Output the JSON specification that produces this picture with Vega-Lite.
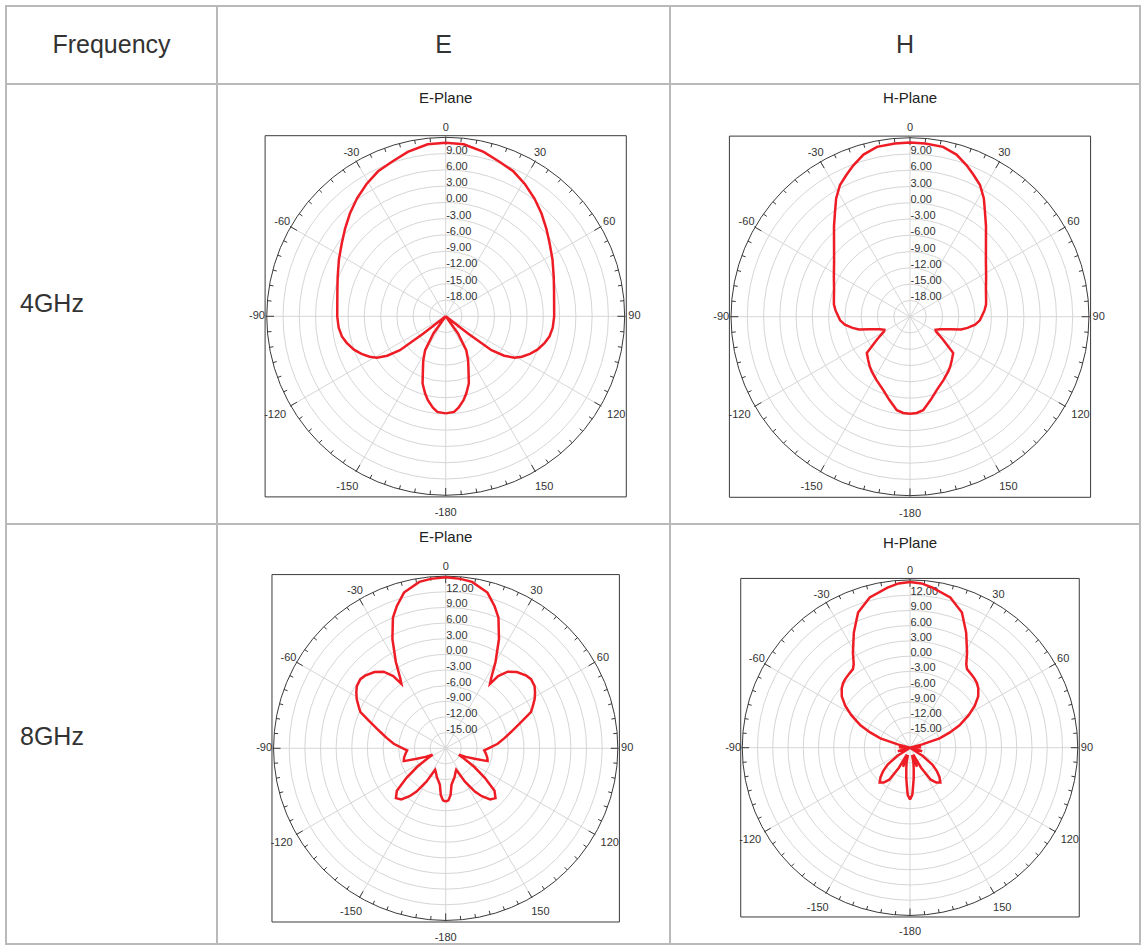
{
"$schema":"https://vega.github.io/schema/vega-lite/v6.json",
"padding":{"left":5,"top":5,"right":0,"bottom":0},
"config":{"view":{"stroke":"#b9b9b9","strokeWidth":2},"text":{"font":"Liberation Sans"}},
"datasets":{
"r1":[{"d":-18},{"d":-15},{"d":-12},{"d":-9},{"d":-6},{"d":-3},{"d":0},{"d":3},{"d":6},{"d":9},{"d":12}],
"r2":[{"d":-15},{"d":-12},{"d":-9},{"d":-6},{"d":-3},{"d":0},{"d":3},{"d":6},{"d":9},{"d":12},{"d":15}],
"frame":[{"s":11.1}],
"spk":[{"a":0},{"a":30},{"a":60},{"a":90},{"a":120},{"a":150},{"a":-180},{"a":-150},{"a":-120},{"a":-90},{"a":-60},{"a":-30}],
"tk":[{"a":0},{"a":5},{"a":10},{"a":15},{"a":20},{"a":25},{"a":30},{"a":35},{"a":40},{"a":45},{"a":50},{"a":55},{"a":60},{"a":65},{"a":70},{"a":75},{"a":80},{"a":85},{"a":90},{"a":95},{"a":100},{"a":105},{"a":110},{"a":115},{"a":120},{"a":125},{"a":130},{"a":135},{"a":140},{"a":145},{"a":150},{"a":155},{"a":160},{"a":165},{"a":170},{"a":175},{"a":180},{"a":185},{"a":190},{"a":195},{"a":200},{"a":205},{"a":210},{"a":215},{"a":220},{"a":225},{"a":230},{"a":235},{"a":240},{"a":245},{"a":250},{"a":255},{"a":260},{"a":265},{"a":270},{"a":275},{"a":280},{"a":285},{"a":290},{"a":295},{"a":300},{"a":305},{"a":310},{"a":315},{"a":320},{"a":325},{"a":330},{"a":335},{"a":340},{"a":345},{"a":350},{"a":355}],
"e4":[{"a":-180,"d":-3.1},{"a":-175,"d":-3.3},{"a":-172,"d":-4.0},{"a":-168,"d":-5.2},{"a":-165,"d":-6.3},{"a":-161,"d":-7.9},{"a":-156,"d":-10.7},{"a":-153,"d":-11.9},{"a":-148.7,"d":-13.7},{"a":-144.5,"d":-17.1},{"a":-141,"d":-21},{"a":-129,"d":-21},{"a":-127.7,"d":-15.8},{"a":-126.5,"d":-10.5},{"a":-124,"d":-8.0},{"a":-121,"d":-6.2},{"a":-118,"d":-5.1},{"a":-114,"d":-4.0},{"a":-110,"d":-3.0},{"a":-105,"d":-2.1},{"a":-101,"d":-1.5},{"a":-96,"d":-1.15},{"a":-90,"d":-1.0},{"a":-84,"d":-0.9},{"a":-77,"d":-0.5},{"a":-70,"d":0.2},{"a":-62,"d":1.3},{"a":-55,"d":2.4},{"a":-49,"d":3.6},{"a":-43,"d":4.9},{"a":-37,"d":6.2},{"a":-31,"d":7.4},{"a":-25,"d":8.5},{"a":-19,"d":9.2},{"a":-13,"d":10.1},{"a":-6,"d":10.9},{"a":0,"d":11.0},
{"a":6,"d":10.9},{"a":13,"d":10.1},{"a":19,"d":9.2},{"a":25,"d":8.5},{"a":31,"d":7.4},{"a":37,"d":6.2},{"a":43,"d":4.9},{"a":49,"d":3.6},{"a":55,"d":2.4},{"a":62,"d":1.3},{"a":70,"d":0.2},{"a":77,"d":-0.5},{"a":84,"d":-0.9},{"a":90,"d":-1.0},{"a":96,"d":-1.15},{"a":101,"d":-1.5},{"a":105,"d":-2.1},{"a":110,"d":-3.0},{"a":114,"d":-4.0},{"a":118,"d":-5.1},{"a":121,"d":-6.2},{"a":124,"d":-8.0},{"a":126.5,"d":-10.5},{"a":127.7,"d":-15.8},{"a":129,"d":-21},{"a":141,"d":-21},{"a":144.5,"d":-17.1},{"a":148.7,"d":-13.7},{"a":153,"d":-11.9},{"a":156,"d":-10.7},{"a":161,"d":-7.9},{"a":165,"d":-6.3},{"a":168,"d":-5.2},{"a":172,"d":-4.0},{"a":175,"d":-3.3},{"a":180,"d":-3.1}],
"h4":[{"a":-180,"d":-3.1},{"a":-176,"d":-3.2},{"a":-172,"d":-3.6},{"a":-166,"d":-5.2},{"a":-160,"d":-6.6},{"a":-152,"d":-7.8},{"a":-145,"d":-8.7},{"a":-141,"d":-9.2},{"a":-136,"d":-9.9},{"a":-130,"d":-10.6},{"a":-125,"d":-13.5},{"a":-122,"d":-14.7},{"a":-119.5,"d":-15.5},{"a":-117,"d":-15.7},{"a":-112.8,"d":-15.0},{"a":-107.5,"d":-13.3},{"a":-104,"d":-11.3},{"a":-101,"d":-10.2},{"a":-97,"d":-8.9},{"a":-93,"d":-8.1},{"a":-89,"d":-7.7},{"a":-85,"d":-7.2},{"a":-81,"d":-6.8},{"a":-77,"d":-6.6},{"a":-70,"d":-6.1},{"a":-62,"d":-5.1},{"a":-54,"d":-3.7},{"a":-47,"d":-1.85},{"a":-40,"d":0.8},{"a":-35.5,"d":2.8},{"a":-32,"d":4.7},{"a":-28,"d":6.5},{"a":-24,"d":7.7},{"a":-20.5,"d":8.8},{"a":-16,"d":10.1},{"a":-11,"d":10.9},{"a":-5,"d":11.05},{"a":0,"d":11.1},
{"a":5,"d":11.05},{"a":11,"d":10.9},{"a":16,"d":10.1},{"a":20.5,"d":8.8},{"a":24,"d":7.7},{"a":28,"d":6.5},{"a":32,"d":4.7},{"a":35.5,"d":2.8},{"a":40,"d":0.8},{"a":47,"d":-1.85},{"a":54,"d":-3.7},{"a":62,"d":-5.1},{"a":70,"d":-6.1},{"a":77,"d":-6.6},{"a":81,"d":-6.8},{"a":85,"d":-7.2},{"a":89,"d":-7.7},{"a":93,"d":-8.1},{"a":97,"d":-8.9},{"a":101,"d":-10.2},{"a":104,"d":-11.3},{"a":107.5,"d":-13.3},{"a":112.8,"d":-15.0},{"a":117,"d":-15.7},{"a":119.5,"d":-15.5},{"a":122,"d":-14.7},{"a":125,"d":-13.5},{"a":130,"d":-10.6},{"a":136,"d":-9.9},{"a":141,"d":-9.2},{"a":145,"d":-8.7},{"a":152,"d":-7.8},{"a":160,"d":-6.6},{"a":166,"d":-5.2},{"a":172,"d":-3.6},{"a":176,"d":-3.2},{"a":180,"d":-3.1}],
"e8":[{"a":-180,"d":-7.8},{"a":-177,"d":-8.0},{"a":-174,"d":-9.0},{"a":-171,"d":-10.9},{"a":-168,"d":-11.5},{"a":-163,"d":-12.2},{"a":-158,"d":-13.0},{"a":-154,"d":-13.4},{"a":-150,"d":-10.6},{"a":-146,"d":-8.0},{"a":-143,"d":-6.5},{"a":-139,"d":-5.0},{"a":-135,"d":-4.5},{"a":-131,"d":-5.6},{"a":-127,"d":-8.6},{"a":-123,"d":-11.5},{"a":-119,"d":-14.0},{"a":-116,"d":-15.2},{"a":-113,"d":-13.8},{"a":-110,"d":-12.1},{"a":-107,"d":-9.6},{"a":-103,"d":-9.8},{"a":-98,"d":-10.2},{"a":-93,"d":-10.6},{"a":-90,"d":-9.8},{"a":-85,"d":-8.0},{"a":-80,"d":-6.5},{"a":-76,"d":-5.1},{"a":-70.8,"d":-2.7},{"a":-67,"d":-0.25},{"a":-64.7,"d":0.4},{"a":-61,"d":1.5},{"a":-58,"d":2.2},{"a":-55,"d":2.8},{"a":-51,"d":3.05},{"a":-48,"d":2.8},{"a":-43,"d":2.0},{"a":-39,"d":0.9},{"a":-36,"d":-0.9},{"a":-34.5,"d":-3.0},{"a":-33,"d":-2.0},{"a":-30,"d":1.1},{"a":-26,"d":5.3},{"a":-22,"d":9.0},{"a":-19,"d":10.8},{"a":-15,"d":12.9},{"a":-9,"d":14.3},{"a":-5,"d":14.6},{"a":0,"d":14.8},
{"a":5,"d":14.6},{"a":9,"d":14.3},{"a":15,"d":12.9},{"a":19,"d":10.8},{"a":22,"d":9.0},{"a":26,"d":5.3},{"a":30,"d":1.1},{"a":33,"d":-2.0},{"a":34.5,"d":-3.0},{"a":36,"d":-0.9},{"a":39,"d":0.9},{"a":43,"d":2.0},{"a":48,"d":2.8},{"a":51,"d":3.05},{"a":55,"d":2.8},{"a":58,"d":2.2},{"a":61,"d":1.5},{"a":64.7,"d":0.4},{"a":67,"d":-0.25},{"a":70.8,"d":-2.7},{"a":76,"d":-5.1},{"a":80,"d":-6.5},{"a":85,"d":-8.0},{"a":90,"d":-9.8},{"a":93,"d":-10.6},{"a":98,"d":-10.2},{"a":103,"d":-9.8},{"a":107,"d":-9.6},{"a":110,"d":-12.1},{"a":113,"d":-13.8},{"a":116,"d":-15.2},{"a":119,"d":-14.0},{"a":123,"d":-11.5},{"a":127,"d":-8.6},{"a":131,"d":-5.6},{"a":135,"d":-4.5},{"a":139,"d":-5.0},{"a":143,"d":-6.5},{"a":146,"d":-8.0},{"a":150,"d":-10.6},{"a":154,"d":-13.4},{"a":158,"d":-13.0},{"a":163,"d":-12.2},{"a":168,"d":-11.5},{"a":171,"d":-10.9},{"a":174,"d":-9.0},{"a":177,"d":-8.0},{"a":180,"d":-7.8}],
"h8":[{"a":-180,"d":-7.8},{"a":-177.2,"d":-8.7},{"a":-175,"d":-10.7},{"a":-173,"d":-12.0},{"a":-170,"d":-13.8},{"a":-167,"d":-15.0},{"a":-164,"d":-16.5},{"a":-160,"d":-14.0},{"a":-155,"d":-16.5},{"a":-151,"d":-13.5},{"a":-147,"d":-10.5},{"a":-143,"d":-9.4},{"a":-139,"d":-8.9},{"a":-135,"d":-9.8},{"a":-131,"d":-11.0},{"a":-127,"d":-12.5},{"a":-123,"d":-15.0},{"a":-118,"d":-18},{"a":-114,"d":-16.0},{"a":-110,"d":-18},{"a":-106,"d":-15.5},{"a":-102,"d":-18},{"a":-98,"d":-16.5},{"a":-92,"d":-18},{"a":-88,"d":-15.8},{"a":-84,"d":-18},{"a":-78,"d":-18},{"a":-75,"d":-15.5},{"a":-72.6,"d":-11.9},{"a":-69,"d":-9.6},{"a":-65.6,"d":-7.3},{"a":-61,"d":-4.8},{"a":-57,"d":-2.8},{"a":-53,"d":-1.2},{"a":-49,"d":-0.2},{"a":-46,"d":0.3},{"a":-43,"d":0.6},{"a":-40,"d":0.8},{"a":-36,"d":1.1},{"a":-34,"d":1.8},{"a":-31,"d":3.8},{"a":-26,"d":7.2},{"a":-21,"d":10.5},{"a":-15,"d":12.6},{"a":-8,"d":13.8},{"a":-4,"d":14.4},{"a":0,"d":14.6},
{"a":4,"d":14.4},{"a":8,"d":13.8},{"a":15,"d":12.6},{"a":21,"d":10.5},{"a":26,"d":7.2},{"a":31,"d":3.8},{"a":34,"d":1.8},{"a":36,"d":1.1},{"a":40,"d":0.8},{"a":43,"d":0.6},{"a":46,"d":0.3},{"a":49,"d":-0.2},{"a":53,"d":-1.2},{"a":57,"d":-2.8},{"a":61,"d":-4.8},{"a":65.6,"d":-7.3},{"a":69,"d":-9.6},{"a":72.6,"d":-11.9},{"a":75,"d":-15.5},{"a":78,"d":-18},{"a":84,"d":-18},{"a":88,"d":-15.8},{"a":92,"d":-18},{"a":98,"d":-16.5},{"a":102,"d":-18},{"a":106,"d":-15.5},{"a":110,"d":-18},{"a":114,"d":-16.0},{"a":118,"d":-18},{"a":123,"d":-15.0},{"a":127,"d":-12.5},{"a":131,"d":-11.0},{"a":135,"d":-9.8},{"a":139,"d":-8.9},{"a":143,"d":-9.4},{"a":147,"d":-10.5},{"a":151,"d":-13.5},{"a":155,"d":-16.5},{"a":160,"d":-14.0},{"a":164,"d":-16.5},{"a":167,"d":-15.0},{"a":170,"d":-13.8},{"a":173,"d":-12.0},{"a":175,"d":-10.7},{"a":177.2,"d":-8.7},{"a":180,"d":-7.8}]
},
"concat":[
 {"width":211,"height":78,"data":{"values":[{"t":"Frequency"}]},"mark":{"type":"text","fontSize":25,"color":"#333"},"encoding":{"x":{"field":"t","type":"nominal","axis":null},"y":{"field":"t","type":"nominal","axis":null},"text":{"field":"t","type":"nominal"}}},
 {"width":453,"height":78,"data":{"values":[{"t":"E"}]},"mark":{"type":"text","fontSize":25,"color":"#333"},"encoding":{"x":{"field":"t","type":"nominal","axis":null},"y":{"field":"t","type":"nominal","axis":null},"text":{"field":"t","type":"nominal"}}},
 {"width":470,"height":78,"data":{"values":[{"t":"H"}]},"mark":{"type":"text","fontSize":25,"color":"#333"},"encoding":{"x":{"field":"t","type":"nominal","axis":null},"y":{"field":"t","type":"nominal","axis":null},"text":{"field":"t","type":"nominal"}}},
 {"width":211,"height":440,"data":{"values":[{"t":"4GHz"}]},"mark":{"type":"text","fontSize":25,"color":"#333","align":"left","dx":-91.5},"encoding":{"x":{"field":"t","type":"nominal","axis":null},"y":{"field":"t","type":"nominal","axis":null},"text":{"field":"t","type":"nominal"}}},
 {"width":453,"height":440,"layer":[
  {"data":{"name":"spk"},"transform":[{"calculate":"0","as":"c"},{"calculate":"11*sin(datum.a*PI/180)","as":"ox"},{"calculate":"11*cos(datum.a*PI/180)","as":"oy"}],
   "mark":{"type":"rule","stroke":"#d6d6d6","strokeWidth":1},
   "encoding":{"x":{"field":"c","type":"quantitative","axis":null,"scale":{"domain":[-14.057,13.786],"nice":false,"zero":false}},"y":{"field":"c","type":"quantitative","axis":null,"scale":{"domain":[-12.766,14.278],"nice":false,"zero":false}},"x2":{"field":"ox"},"y2":{"field":"oy"}}},
  {"data":{"name":"r1"},"transform":[{"calculate":"0","as":"c"},{"calculate":"(datum.d+21)/3","as":"k"},{"filter":"datum.k<10.5"}],
   "mark":{"type":"point","shape":"circle","filled":false,"opacity":1,"stroke":"#d6d6d6","strokeWidth":1},
   "encoding":{"x":{"field":"c","type":"quantitative","axis":null},"y":{"field":"c","type":"quantitative","axis":null},"size":{"field":"k","type":"quantitative","legend":null,"scale":{"type":"pow","exponent":2,"domain":[0,11],"range":[0,128121]}}}},
  {"data":{"name":"r1"},"transform":[{"calculate":"0","as":"c"},{"calculate":"(datum.d+21)/3","as":"k"},{"filter":"datum.k>10.5"}],
   "mark":{"type":"point","shape":"circle","filled":false,"opacity":1,"stroke":"#3a3a3a","strokeWidth":1},
   "encoding":{"x":{"field":"c","type":"quantitative","axis":null},"y":{"field":"c","type":"quantitative","axis":null},"size":{"field":"k","type":"quantitative","legend":null}}},
  {"data":{"name":"frame"},"transform":[{"calculate":"0","as":"c"}],
   "mark":{"type":"point","shape":"square","filled":false,"opacity":1,"stroke":"#3a3a3a","strokeWidth":1},
   "encoding":{"x":{"field":"c","type":"quantitative","axis":null},"y":{"field":"c","type":"quantitative","axis":null},"size":{"field":"s","type":"quantitative","legend":null}}},
  {"data":{"name":"tk"},"transform":[{"calculate":"datum.a%30==0?10.55:10.75","as":"ri"},{"calculate":"datum.a%30==0?11.05:11","as":"ro"},{"calculate":"datum.ro*sin(datum.a*PI/180)","as":"x1"},{"calculate":"datum.ro*cos(datum.a*PI/180)","as":"y1"},{"calculate":"datum.ri*sin(datum.a*PI/180)","as":"x2"},{"calculate":"datum.ri*cos(datum.a*PI/180)","as":"y2"}],
   "mark":{"type":"rule","stroke":"#3a3a3a","strokeWidth":1},
   "encoding":{"x":{"field":"x1","type":"quantitative","axis":null},"y":{"field":"y1","type":"quantitative","axis":null},"x2":{"field":"x2"},"y2":{"field":"y2"}}},
  {"data":{"name":"spk"},"transform":[{"calculate":"cos(datum.a*PI/180)<-0.1?12.1:11.6","as":"lr"},{"calculate":"datum.lr*sin(datum.a*PI/180)","as":"lx"},{"calculate":"datum.lr*cos(datum.a*PI/180)","as":"ly"},{"calculate":"(datum.a<0?'-':'')+abs(datum.a)","as":"lab"}],
   "mark":{"type":"text","fontSize":11,"color":"#333"},
   "encoding":{"x":{"field":"lx","type":"quantitative","axis":null},"y":{"field":"ly","type":"quantitative","axis":null},"text":{"field":"lab","type":"nominal"}}},
  {"data":{"name":"r1"},"transform":[{"calculate":"0","as":"c"},{"calculate":"(datum.d+21)/3","as":"k"},{"filter":"datum.k<10.5"},{"calculate":"(datum.d<0?'-':'')+format(abs(datum.d),'.2f')","as":"lab"}],
   "mark":{"type":"text","fontSize":11,"color":"#333","align":"left","dx":0.5,"dy":-3},
   "encoding":{"x":{"field":"c","type":"quantitative","axis":null},"y":{"field":"k","type":"quantitative","axis":null},"text":{"field":"lab","type":"nominal"}}},
  {"data":{"name":"e4"},"transform":[{"calculate":"max(0,(datum.d+21)/3)","as":"rho"},{"calculate":"datum.rho*sin(datum.a*PI/180)","as":"px"},{"calculate":"datum.rho*cos(datum.a*PI/180)","as":"py"}],
   "mark":{"type":"line","color":"#ee1c24","strokeWidth":2.5},
   "encoding":{"x":{"field":"px","type":"quantitative","axis":null},"y":{"field":"py","type":"quantitative","axis":null},"order":{"field":"a","type":"quantitative"}}},
  {"data":{"values":[{"t":"E-Plane"}]},"transform":[{"calculate":"0","as":"c"},{"calculate":"13.42","as":"ty"}],
   "mark":{"type":"text","fontSize":15,"color":"#222"},
   "encoding":{"x":{"field":"c","type":"quantitative","axis":null},"y":{"field":"ty","type":"quantitative","axis":null},"text":{"field":"t","type":"nominal"}}}
 ]},
 {"width":470,"height":440,"layer":[
  {"data":{"name":"spk"},"transform":[{"calculate":"0","as":"c"},{"calculate":"11*sin(datum.a*PI/180)","as":"ox"},{"calculate":"11*cos(datum.a*PI/180)","as":"oy"}],
   "mark":{"type":"rule","stroke":"#d6d6d6","strokeWidth":1},
   "encoding":{"x":{"field":"c","type":"quantitative","axis":null,"scale":{"domain":[-14.751,14.137],"nice":false,"zero":false}},"y":{"field":"c","type":"quantitative","axis":null,"scale":{"domain":[-12.741,14.303],"nice":false,"zero":false}},"x2":{"field":"ox"},"y2":{"field":"oy"}}},
  {"data":{"name":"r1"},"transform":[{"calculate":"0","as":"c"},{"calculate":"(datum.d+21)/3","as":"k"},{"filter":"datum.k<10.5"}],
   "mark":{"type":"point","shape":"circle","filled":false,"opacity":1,"stroke":"#d6d6d6","strokeWidth":1},
   "encoding":{"x":{"field":"c","type":"quantitative","axis":null},"y":{"field":"c","type":"quantitative","axis":null},"size":{"field":"k","type":"quantitative","legend":null,"scale":{"type":"pow","exponent":2,"domain":[0,11],"range":[0,128121]}}}},
  {"data":{"name":"r1"},"transform":[{"calculate":"0","as":"c"},{"calculate":"(datum.d+21)/3","as":"k"},{"filter":"datum.k>10.5"}],
   "mark":{"type":"point","shape":"circle","filled":false,"opacity":1,"stroke":"#3a3a3a","strokeWidth":1},
   "encoding":{"x":{"field":"c","type":"quantitative","axis":null},"y":{"field":"c","type":"quantitative","axis":null},"size":{"field":"k","type":"quantitative","legend":null}}},
  {"data":{"name":"frame"},"transform":[{"calculate":"0","as":"c"}],
   "mark":{"type":"point","shape":"square","filled":false,"opacity":1,"stroke":"#3a3a3a","strokeWidth":1},
   "encoding":{"x":{"field":"c","type":"quantitative","axis":null},"y":{"field":"c","type":"quantitative","axis":null},"size":{"field":"s","type":"quantitative","legend":null}}},
  {"data":{"name":"tk"},"transform":[{"calculate":"datum.a%30==0?10.55:10.75","as":"ri"},{"calculate":"datum.a%30==0?11.05:11","as":"ro"},{"calculate":"datum.ro*sin(datum.a*PI/180)","as":"x1"},{"calculate":"datum.ro*cos(datum.a*PI/180)","as":"y1"},{"calculate":"datum.ri*sin(datum.a*PI/180)","as":"x2"},{"calculate":"datum.ri*cos(datum.a*PI/180)","as":"y2"}],
   "mark":{"type":"rule","stroke":"#3a3a3a","strokeWidth":1},
   "encoding":{"x":{"field":"x1","type":"quantitative","axis":null},"y":{"field":"y1","type":"quantitative","axis":null},"x2":{"field":"x2"},"y2":{"field":"y2"}}},
  {"data":{"name":"spk"},"transform":[{"calculate":"cos(datum.a*PI/180)<-0.1?12.1:11.6","as":"lr"},{"calculate":"datum.lr*sin(datum.a*PI/180)","as":"lx"},{"calculate":"datum.lr*cos(datum.a*PI/180)","as":"ly"},{"calculate":"(datum.a<0?'-':'')+abs(datum.a)","as":"lab"}],
   "mark":{"type":"text","fontSize":11,"color":"#333"},
   "encoding":{"x":{"field":"lx","type":"quantitative","axis":null},"y":{"field":"ly","type":"quantitative","axis":null},"text":{"field":"lab","type":"nominal"}}},
  {"data":{"name":"r1"},"transform":[{"calculate":"0","as":"c"},{"calculate":"(datum.d+21)/3","as":"k"},{"filter":"datum.k<10.5"},{"calculate":"(datum.d<0?'-':'')+format(abs(datum.d),'.2f')","as":"lab"}],
   "mark":{"type":"text","fontSize":11,"color":"#333","align":"left","dx":0.5,"dy":-3},
   "encoding":{"x":{"field":"c","type":"quantitative","axis":null},"y":{"field":"k","type":"quantitative","axis":null},"text":{"field":"lab","type":"nominal"}}},
  {"data":{"name":"h4"},"transform":[{"calculate":"max(0,(datum.d+21)/3)","as":"rho"},{"calculate":"datum.rho*sin(datum.a*PI/180)","as":"px"},{"calculate":"datum.rho*cos(datum.a*PI/180)","as":"py"}],
   "mark":{"type":"line","color":"#ee1c24","strokeWidth":2.5},
   "encoding":{"x":{"field":"px","type":"quantitative","axis":null},"y":{"field":"py","type":"quantitative","axis":null},"order":{"field":"a","type":"quantitative"}}},
  {"data":{"values":[{"t":"H-Plane"}]},"transform":[{"calculate":"0","as":"c"},{"calculate":"13.42","as":"ty"}],
   "mark":{"type":"text","fontSize":15,"color":"#222"},
   "encoding":{"x":{"field":"c","type":"quantitative","axis":null},"y":{"field":"ty","type":"quantitative","axis":null},"text":{"field":"t","type":"nominal"}}}
 ]},
 {"width":211,"height":420,"data":{"values":[{"t":"8GHz"}]},"mark":{"type":"text","fontSize":25,"color":"#333","align":"left","dx":-91.5,"dy":3},"encoding":{"x":{"field":"t","type":"nominal","axis":null},"y":{"field":"t","type":"nominal","axis":null},"text":{"field":"t","type":"nominal"}}},
 {"width":453,"height":420,"layer":[
  {"data":{"name":"spk"},"transform":[{"calculate":"0","as":"c"},{"calculate":"11*sin(datum.a*PI/180)","as":"ox"},{"calculate":"11*cos(datum.a*PI/180)","as":"oy"}],
   "mark":{"type":"rule","stroke":"#d6d6d6","strokeWidth":1},
   "encoding":{"x":{"field":"c","type":"quantitative","axis":null,"scale":{"domain":[-14.613,14.333],"nice":false,"zero":false}},"y":{"field":"c","type":"quantitative","axis":null,"scale":{"domain":[-12.505,14.332],"nice":false,"zero":false}},"x2":{"field":"ox"},"y2":{"field":"oy"}}},
  {"data":{"name":"r2"},"transform":[{"calculate":"0","as":"c"},{"calculate":"(datum.d+18)/3","as":"k"},{"filter":"datum.k<10.5"}],
   "mark":{"type":"point","shape":"circle","filled":false,"opacity":1,"stroke":"#d6d6d6","strokeWidth":1},
   "encoding":{"x":{"field":"c","type":"quantitative","axis":null},"y":{"field":"c","type":"quantitative","axis":null},"size":{"field":"k","type":"quantitative","legend":null,"scale":{"type":"pow","exponent":2,"domain":[0,11],"range":[0,118542]}}}},
  {"data":{"name":"r2"},"transform":[{"calculate":"0","as":"c"},{"calculate":"(datum.d+18)/3","as":"k"},{"filter":"datum.k>10.5"}],
   "mark":{"type":"point","shape":"circle","filled":false,"opacity":1,"stroke":"#3a3a3a","strokeWidth":1},
   "encoding":{"x":{"field":"c","type":"quantitative","axis":null},"y":{"field":"c","type":"quantitative","axis":null},"size":{"field":"k","type":"quantitative","legend":null}}},
  {"data":{"name":"frame"},"transform":[{"calculate":"0","as":"c"}],
   "mark":{"type":"point","shape":"square","filled":false,"opacity":1,"stroke":"#3a3a3a","strokeWidth":1},
   "encoding":{"x":{"field":"c","type":"quantitative","axis":null},"y":{"field":"c","type":"quantitative","axis":null},"size":{"field":"s","type":"quantitative","legend":null}}},
  {"data":{"name":"tk"},"transform":[{"calculate":"datum.a%30==0?10.55:10.75","as":"ri"},{"calculate":"datum.a%30==0?11.05:11","as":"ro"},{"calculate":"datum.ro*sin(datum.a*PI/180)","as":"x1"},{"calculate":"datum.ro*cos(datum.a*PI/180)","as":"y1"},{"calculate":"datum.ri*sin(datum.a*PI/180)","as":"x2"},{"calculate":"datum.ri*cos(datum.a*PI/180)","as":"y2"}],
   "mark":{"type":"rule","stroke":"#3a3a3a","strokeWidth":1},
   "encoding":{"x":{"field":"x1","type":"quantitative","axis":null},"y":{"field":"y1","type":"quantitative","axis":null},"x2":{"field":"x2"},"y2":{"field":"y2"}}},
  {"data":{"name":"spk"},"transform":[{"calculate":"cos(datum.a*PI/180)<-0.1?12.1:11.6","as":"lr"},{"calculate":"datum.lr*sin(datum.a*PI/180)","as":"lx"},{"calculate":"datum.lr*cos(datum.a*PI/180)","as":"ly"},{"calculate":"(datum.a<0?'-':'')+abs(datum.a)","as":"lab"}],
   "mark":{"type":"text","fontSize":11,"color":"#333"},
   "encoding":{"x":{"field":"lx","type":"quantitative","axis":null},"y":{"field":"ly","type":"quantitative","axis":null},"text":{"field":"lab","type":"nominal"}}},
  {"data":{"name":"r2"},"transform":[{"calculate":"0","as":"c"},{"calculate":"(datum.d+18)/3","as":"k"},{"filter":"datum.k<10.5"},{"calculate":"(datum.d<0?'-':'')+format(abs(datum.d),'.2f')","as":"lab"}],
   "mark":{"type":"text","fontSize":11,"color":"#333","align":"left","dx":0.5,"dy":-3},
   "encoding":{"x":{"field":"c","type":"quantitative","axis":null},"y":{"field":"k","type":"quantitative","axis":null},"text":{"field":"lab","type":"nominal"}}},
  {"data":{"name":"e8"},"transform":[{"calculate":"max(0,(datum.d+18)/3)","as":"rho"},{"calculate":"datum.rho*sin(datum.a*PI/180)","as":"px"},{"calculate":"datum.rho*cos(datum.a*PI/180)","as":"py"}],
   "mark":{"type":"line","color":"#ee1c24","strokeWidth":2.5},
   "encoding":{"x":{"field":"px","type":"quantitative","axis":null},"y":{"field":"py","type":"quantitative","axis":null},"order":{"field":"a","type":"quantitative"}}},
  {"data":{"values":[{"t":"E-Plane"}]},"transform":[{"calculate":"0","as":"c"},{"calculate":"13.5","as":"ty"}],
   "mark":{"type":"text","fontSize":15,"color":"#222"},
   "encoding":{"x":{"field":"c","type":"quantitative","axis":null},"y":{"field":"ty","type":"quantitative","axis":null},"text":{"field":"t","type":"nominal"}}}
 ]},
 {"width":470,"height":420,"layer":[
  {"data":{"name":"spk"},"transform":[{"calculate":"0","as":"c"},{"calculate":"11*sin(datum.a*PI/180)","as":"ox"},{"calculate":"11*cos(datum.a*PI/180)","as":"oy"}],
   "mark":{"type":"rule","stroke":"#d6d6d6","strokeWidth":1},
   "encoding":{"x":{"field":"c","type":"quantitative","axis":null,"scale":{"domain":[-15.738,15.082],"nice":false,"zero":false}},"y":{"field":"c","type":"quantitative","axis":null,"scale":{"domain":[-12.872,14.669],"nice":false,"zero":false}},"x2":{"field":"ox"},"y2":{"field":"oy"}}},
  {"data":{"name":"r2"},"transform":[{"calculate":"0","as":"c"},{"calculate":"(datum.d+18)/3","as":"k"},{"filter":"datum.k<10.5"}],
   "mark":{"type":"point","shape":"circle","filled":false,"opacity":1,"stroke":"#d6d6d6","strokeWidth":1},
   "encoding":{"x":{"field":"c","type":"quantitative","axis":null},"y":{"field":"c","type":"quantitative","axis":null},"size":{"field":"k","type":"quantitative","legend":null,"scale":{"type":"pow","exponent":2,"domain":[0,11],"range":[0,112561]}}}},
  {"data":{"name":"r2"},"transform":[{"calculate":"0","as":"c"},{"calculate":"(datum.d+18)/3","as":"k"},{"filter":"datum.k>10.5"}],
   "mark":{"type":"point","shape":"circle","filled":false,"opacity":1,"stroke":"#3a3a3a","strokeWidth":1},
   "encoding":{"x":{"field":"c","type":"quantitative","axis":null},"y":{"field":"c","type":"quantitative","axis":null},"size":{"field":"k","type":"quantitative","legend":null}}},
  {"data":{"name":"frame"},"transform":[{"calculate":"0","as":"c"}],
   "mark":{"type":"point","shape":"square","filled":false,"opacity":1,"stroke":"#3a3a3a","strokeWidth":1},
   "encoding":{"x":{"field":"c","type":"quantitative","axis":null},"y":{"field":"c","type":"quantitative","axis":null},"size":{"field":"s","type":"quantitative","legend":null}}},
  {"data":{"name":"tk"},"transform":[{"calculate":"datum.a%30==0?10.55:10.75","as":"ri"},{"calculate":"datum.a%30==0?11.05:11","as":"ro"},{"calculate":"datum.ro*sin(datum.a*PI/180)","as":"x1"},{"calculate":"datum.ro*cos(datum.a*PI/180)","as":"y1"},{"calculate":"datum.ri*sin(datum.a*PI/180)","as":"x2"},{"calculate":"datum.ri*cos(datum.a*PI/180)","as":"y2"}],
   "mark":{"type":"rule","stroke":"#3a3a3a","strokeWidth":1},
   "encoding":{"x":{"field":"x1","type":"quantitative","axis":null},"y":{"field":"y1","type":"quantitative","axis":null},"x2":{"field":"x2"},"y2":{"field":"y2"}}},
  {"data":{"name":"spk"},"transform":[{"calculate":"cos(datum.a*PI/180)<-0.1?12.1:11.6","as":"lr"},{"calculate":"datum.lr*sin(datum.a*PI/180)","as":"lx"},{"calculate":"datum.lr*cos(datum.a*PI/180)","as":"ly"},{"calculate":"(datum.a<0?'-':'')+abs(datum.a)","as":"lab"}],
   "mark":{"type":"text","fontSize":11,"color":"#333"},
   "encoding":{"x":{"field":"lx","type":"quantitative","axis":null},"y":{"field":"ly","type":"quantitative","axis":null},"text":{"field":"lab","type":"nominal"}}},
  {"data":{"name":"r2"},"transform":[{"calculate":"0","as":"c"},{"calculate":"(datum.d+18)/3","as":"k"},{"filter":"datum.k<10.5"},{"calculate":"(datum.d<0?'-':'')+format(abs(datum.d),'.2f')","as":"lab"}],
   "mark":{"type":"text","fontSize":11,"color":"#333","align":"left","dx":0.5,"dy":-3},
   "encoding":{"x":{"field":"c","type":"quantitative","axis":null},"y":{"field":"k","type":"quantitative","axis":null},"text":{"field":"lab","type":"nominal"}}},
  {"data":{"name":"h8"},"transform":[{"calculate":"max(0,(datum.d+18)/3)","as":"rho"},{"calculate":"datum.rho*sin(datum.a*PI/180)","as":"px"},{"calculate":"datum.rho*cos(datum.a*PI/180)","as":"py"}],
   "mark":{"type":"line","color":"#ee1c24","strokeWidth":2.5},
   "encoding":{"x":{"field":"px","type":"quantitative","axis":null},"y":{"field":"py","type":"quantitative","axis":null},"order":{"field":"a","type":"quantitative"}}},
  {"data":{"values":[{"t":"H-Plane"}]},"transform":[{"calculate":"0","as":"c"},{"calculate":"13.4","as":"ty"}],
   "mark":{"type":"text","fontSize":15,"color":"#222"},
   "encoding":{"x":{"field":"c","type":"quantitative","axis":null},"y":{"field":"ty","type":"quantitative","axis":null},"text":{"field":"t","type":"nominal"}}}
 ]}
],
"columns":3,
"align":"each",
"spacing":0,
"bounds":"flush",
"resolve":{"scale":{"size":"independent"},"legend":{"size":"independent"}}
}
